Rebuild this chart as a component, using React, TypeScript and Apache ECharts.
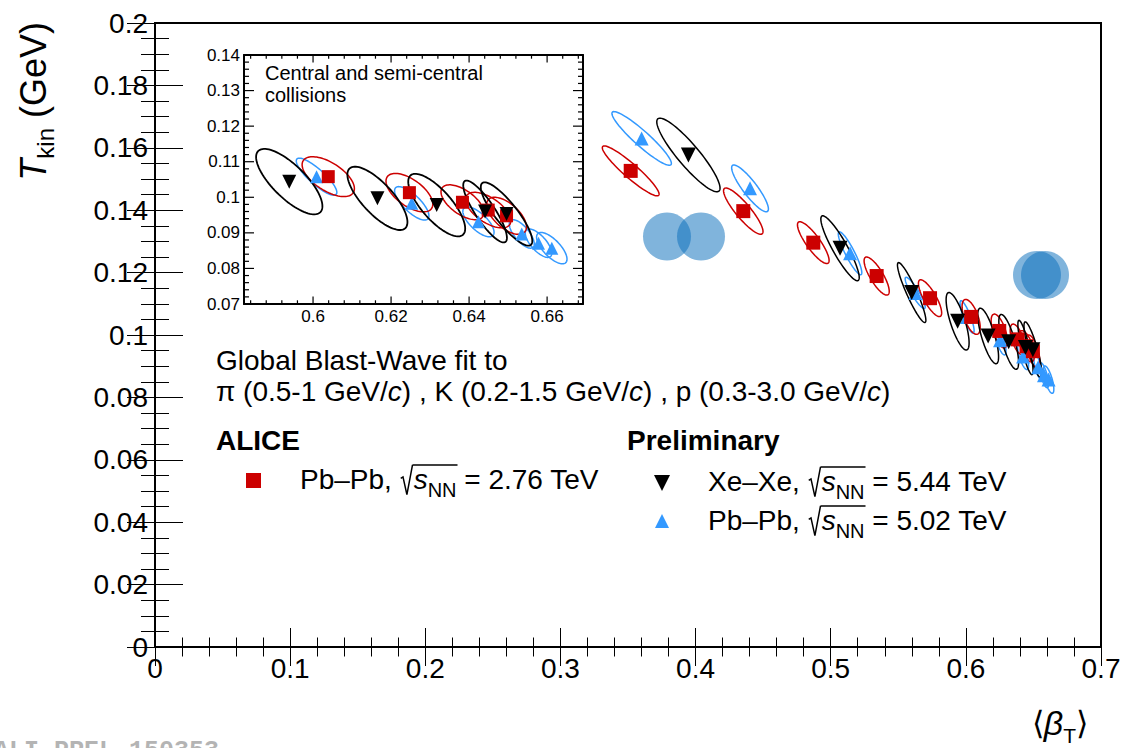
import React, { useEffect, useRef } from "react";
import * as echarts from "echarts";

// ---------------- data ----------------
// Pb-Pb 2.76 TeV (red squares)
const pbpb276Beta = [0.352, 0.4353, 0.4871, 0.534, 0.5735, 0.6039, 0.6247, 0.6383, 0.6449, 0.6496];
const pbpb276T = [0.1526, 0.1397, 0.1296, 0.1189, 0.1118, 0.1058, 0.1013, 0.0986, 0.0964, 0.0948];
const pbpb276SigBeta = [0.021, 0.0146, 0.0117, 0.0093, 0.0086, 0.0067, 0.006, 0.0055, 0.0058, 0.0051];
const pbpb276SigT = [0.008, 0.0074, 0.0067, 0.0061, 0.0059, 0.0056, 0.0054, 0.0049, 0.005, 0.0052];
const pbpb276Rho = [-0.93, -0.88, -0.85, -0.8, -0.8, -0.6, -0.6, -0.6, -0.6, -0.6];

// Xe-Xe 5.44 TeV (black down triangles)
const xexe544Beta = [0.3947, 0.5069, 0.5599, 0.5939, 0.6165, 0.6317, 0.6441, 0.6496];
const xexe544T = [0.1577, 0.1278, 0.1136, 0.1044, 0.0997, 0.0978, 0.096, 0.0953];
const xexe544SigBeta = [0.0234, 0.0142, 0.0105, 0.0085, 0.0077, 0.0073, 0.0056, 0.0066];
const xexe544SigT = [0.0118, 0.0104, 0.0096, 0.0092, 0.0089, 0.0088, 0.0087, 0.0089];
const xexe544Rho = [-0.9, -0.9, -0.92, -0.75, -0.75, -0.75, -0.85, -0.85];

// Pb-Pb 5.02 TeV (blue triangles)
const pbpb502Beta = [0.3601, 0.4403, 0.5143, 0.5625, 0.6009, 0.6253, 0.6424, 0.6535, 0.6578, 0.6612];
const pbpb502T = [0.163, 0.147, 0.1262, 0.1135, 0.1058, 0.0983, 0.0931, 0.0897, 0.0871, 0.0857];
const pbpb502SigBeta = [0.022, 0.0136, 0.0087, 0.0074, 0.0052, 0.0044, 0.004, 0.0032, 0.0034, 0.0039];
const pbpb502SigT = [0.0086, 0.0075, 0.0069, 0.005, 0.0052, 0.0047, 0.0042, 0.004, 0.004, 0.0044];
const pbpb502Rho = [-0.93, -0.88, -0.9, -0.9, -0.85, -0.75, -0.7, -0.7, -0.7, -0.7];

// axis ticks
const mainXTicks = [0, 0.1, 0.2, 0.3, 0.4, 0.5, 0.6, 0.7];
const mainYTicks = [0, 0.02, 0.04, 0.06, 0.08, 0.1, 0.12, 0.14, 0.16, 0.18, 0.2];
const insetXTicks = [0.6, 0.62, 0.64, 0.66];
const insetYTicks = [0.07, 0.08, 0.09, 0.1, 0.11, 0.12, 0.13, 0.14];
const insetXRange = [0.5823, 0.6692];

// ---------------- helpers ----------------
const FONT = '"Liberation Sans", Arial, Helvetica, sans-serif';
const RED = "#cc0000";
const BLUE = "#3399ff";
const BLACK = "#000000";

let mctx: CanvasRenderingContext2D | null = null;
function measure(t: string, size: number, italic?: boolean, bold?: boolean) {
  if (!mctx) mctx = document.createElement("canvas").getContext("2d");
  mctx!.font = `${italic ? "italic " : ""}${bold ? "bold " : ""}${size}px ${FONT}`;
  return mctx!.measureText(t).width;
}

type Part = { t: string; size: number; italic?: boolean; bold?: boolean; dy?: number; sqrt?: boolean; over?: boolean };

function rowEls(parts: Part[], x: number, base: number, color = "#000") {
  const els: any[] = [];
  let cx = x;
  let overStart: number | null = null;
  let overTop = 0;
  parts.forEach((p) => {
    if (p.sqrt) {
      const s = p.size;
      const x0 = cx + 0.04 * s;
      overTop = base - 0.86 * s;
      els.push({
        type: "polyline",
        z: 50,
        shape: {
          points: [
            [x0, base - 0.38 * s],
            [x0 + 0.08 * s, base - 0.43 * s],
            [x0 + 0.22 * s, base + 0.2 * s],
            [x0 + 0.42 * s, overTop],
          ],
        },
        style: { stroke: color, lineWidth: 1.5, fill: "none" },
      });
      overStart = x0 + 0.42 * s;
      cx += 0.5 * s;
      return;
    }
    const w = measure(p.t, p.size, p.italic, p.bold);
    els.push({
      type: "text",
      z: 50,
      x: cx,
      y: base + (p.dy || 0) - 0.33 * p.size,
      style: {
        text: p.t,
        fontSize: p.size,
        fontFamily: FONT,
        fontStyle: p.italic ? "italic" : "normal",
        fontWeight: p.bold ? "bold" : "normal",
        fill: color,
        align: "left",
        verticalAlign: "middle",
      },
    });
    cx += w;
    if (p.over && overStart !== null) {
      els.push({
        type: "line",
        z: 50,
        shape: { x1: overStart, y1: overTop, x2: cx + 1, y2: overTop },
        style: { stroke: color, lineWidth: 1.5 },
      });
      overStart = null;
    }
  });
  return { els, width: cx - x };
}

function legendParts(system: string, energy: string, s: number): Part[] {
  return [
    { t: system + ", ", size: s },
    { t: "", size: s, sqrt: true },
    { t: "s", size: s, italic: true },
    { t: "NN", size: Math.round(s * 0.72), dy: 0.28 * s, over: true },
    { t: " = " + energy + " TeV", size: s },
  ];
}

const fmt = (v: number) => String(parseFloat((+v).toFixed(3)));

function ellipseData(bx: number[], t: number[], sb: number[], st: number[], rho: number[]) {
  return bx.map((b, i) => [b, t[i], sb[i], st[i], rho[i]]);
}

function ellipseSeries(data: number[][], color: string, lw: number, xi: number, yi: number, z: number) {
  return {
    type: "custom",
    xAxisIndex: xi,
    yAxisIndex: yi,
    clip: true,
    z,
    silent: true,
    encode: { x: 0, y: 1 },
    data,
    renderItem: (params: any, api: any) => {
      const cx = api.value(0);
      const cy = api.value(1);
      const sx = api.value(2);
      const sy = api.value(3);
      const rho = api.value(4);
      const r = Math.sqrt(1 - rho * rho);
      const pts: number[][] = [];
      const N = 90;
      for (let i = 0; i < N; i++) {
        const a = (i / N) * Math.PI * 2;
        const x = cx + sx * Math.cos(a);
        const y = cy + sy * (rho * Math.cos(a) + r * Math.sin(a));
        pts.push(api.coord([x, y]));
      }
      return {
        type: "polygon",
        shape: { points: pts },
        style: { fill: "none", stroke: color, lineWidth: lw },
      };
    },
  };
}

function scatterSeries(bx: number[], t: number[], symbol: string, rot: number, size: number, color: string, xi: number, yi: number, z: number) {
  return {
    type: "scatter",
    xAxisIndex: xi,
    yAxisIndex: yi,
    symbol,
    symbolRotate: rot,
    symbolSize: size,
    z,
    itemStyle: { color, opacity: 1 },
    data: bx.map((b, i) => [b, t[i]]),
  };
}

export default function App() {
  const ref = useRef<HTMLDivElement>(null);
  useEffect(() => {
    if (!ref.current) return;
    const chart = echarts.init(ref.current, undefined, { renderer: "svg" });

    const red = ellipseData(pbpb276Beta, pbpb276T, pbpb276SigBeta, pbpb276SigT, pbpb276Rho);
    const blk = ellipseData(xexe544Beta, xexe544T, xexe544SigBeta, xexe544SigT, xexe544Rho);
    const blu = ellipseData(pbpb502Beta, pbpb502T, pbpb502SigBeta, pbpb502SigT, pbpb502Rho);

    const yMin = insetYTicks[0];
    const yMax = insetYTicks[insetYTicks.length - 1];
    // inset tick marks: [x, y, kind(0 = x-axis tick, 1 = y-axis tick), length]
    const insetTickData: number[][] = [];
    for (let k = 146; k <= 167; k++) {
      const v = +(k * 0.004).toFixed(3);
      const major = insetXTicks.some((m) => Math.abs(m - v) < 1e-6);
      insetTickData.push([v, yMin, 0, major ? 7.5 : 3.7]);
    }
    for (let k = 35; k <= 70; k++) {
      const v = +(k * 0.002).toFixed(3);
      const major = insetYTicks.some((m) => Math.abs(m - v) < 1e-6);
      insetTickData.push([insetXRange[0], v, 1, major ? 10 : 5]);
    }

    const ts = () => ({ color: "#000", width: 1 });
    const mainX = (pos: string, show: boolean) => ({
      type: "value",
      gridIndex: 0,
      position: pos,
      min: mainXTicks[0],
      max: mainXTicks[mainXTicks.length - 1],
      interval: 0.1,
      axisLine: { show: false },
      axisTick: { show: true, inside: true, length: 19, lineStyle: ts() },
      minorTick: { show: true, splitNumber: 5, length: 9.5, lineStyle: ts() },
      splitLine: { show: false },
      minorSplitLine: { show: false },
      axisLabel: { show, fontSize: 28, color: "#000", fontFamily: FONT, margin: 7, formatter: fmt },
    });
    const mainY = (pos: string, show: boolean) => ({
      type: "value",
      gridIndex: 0,
      position: pos,
      min: mainYTicks[0],
      max: mainYTicks[mainYTicks.length - 1],
      interval: 0.02,
      axisLine: { show: false },
      axisTick: { show: true, inside: true, length: 28, lineStyle: ts() },
      minorTick: { show: true, splitNumber: 4, length: 14, lineStyle: ts() },
      splitLine: { show: false },
      minorSplitLine: { show: false },
      axisLabel: { show, fontSize: 28, color: "#000", fontFamily: FONT, margin: 7, formatter: fmt },
    });
    const insetX = (pos: string, show: boolean) => ({
      type: "value",
      gridIndex: 1,
      position: pos,
      min: insetXRange[0],
      max: insetXRange[1],
      axisLine: { show: true, onZero: false, lineStyle: { color: "#000", width: 2 } },
      axisTick: { show: false, customValues: insetXTicks },
      splitLine: { show: false },
      axisLabel: { show, customValues: insetXTicks, fontSize: 17, color: "#000", fontFamily: FONT, margin: 4, formatter: fmt },
    });
    const insetY = (pos: string, show: boolean) => ({
      type: "value",
      gridIndex: 1,
      position: pos,
      min: yMin,
      max: yMax,
      interval: 0.01,
      axisLine: { show: true, onZero: false, lineStyle: { color: "#000", width: 2 } },
      axisTick: { show: false },
      splitLine: { show: false },
      axisLabel: { show, fontSize: 17, color: "#000", fontFamily: FONT, margin: 4, formatter: fmt },
    });

    const tickSeries = {
      type: "custom",
      xAxisIndex: 2,
      yAxisIndex: 2,
      clip: false,
      silent: true,
      z: 6,
      encode: { x: 0, y: 1 },
      data: insetTickData,
      renderItem: (params: any, api: any) => {
        const kind = api.value(2);
        const len = api.value(3);
        const st = { stroke: "#000", lineWidth: 1.2 };
        if (kind === 0) {
          const b = api.coord([api.value(0), yMin]);
          const t = api.coord([api.value(0), yMax]);
          return {
            type: "group",
            children: [
              { type: "line", shape: { x1: b[0], y1: b[1], x2: b[0], y2: b[1] - len }, style: st },
              { type: "line", shape: { x1: t[0], y1: t[1], x2: t[0], y2: t[1] + len }, style: st },
            ],
          };
        }
        const l = api.coord([insetXRange[0], api.value(1)]);
        const r = api.coord([insetXRange[1], api.value(1)]);
        return {
          type: "group",
          children: [
            { type: "line", shape: { x1: l[0], y1: l[1], x2: l[0] + len, y2: l[1] }, style: st },
            { type: "line", shape: { x1: r[0], y1: r[1], x2: r[0] - len, y2: r[1] }, style: st },
          ],
        };
      },
    };

    // ------------- graphic texts -------------
    const g: any[] = [];
    const T = 28;
    g.push(...rowEls([{ t: "Global Blast-Wave fit to", size: T }], 216, 370).els);
    g.push(
      ...rowEls(
        [
          { t: "\u03c0 (0.5-1 GeV/", size: T },
          { t: "c", size: T, italic: true },
          { t: ") , K (0.2-1.5 GeV/", size: T },
          { t: "c", size: T, italic: true },
          { t: ") , p (0.3-3.0 GeV/", size: T },
          { t: "c", size: T, italic: true },
          { t: ")", size: T },
        ],
        216,
        401
      ).els
    );
    g.push(...rowEls([{ t: "ALICE", size: T, bold: true }], 216, 450).els);
    g.push(...rowEls([{ t: "Preliminary", size: T, bold: true }], 627, 450).els);
    g.push(...rowEls(legendParts("Pb\u2013Pb", "2.76", T), 300, 489).els);
    g.push(...rowEls(legendParts("Xe\u2013Xe", "5.44", T), 708, 491).els);
    g.push(...rowEls(legendParts("Pb\u2013Pb", "5.02", T), 708, 530).els);
    // legend keys
    g.push({ type: "rect", z: 50, shape: { x: 246, y: 473, width: 15, height: 15 }, style: { fill: RED } });
    g.push({ type: "polygon", z: 50, shape: { points: [[654, 475], [670, 475], [662, 491]] }, style: { fill: BLACK } });
    g.push({ type: "polygon", z: 50, shape: { points: [[655, 528], [669, 528], [662, 514]] }, style: { fill: BLUE } });

    // inset label
    g.push(...rowEls([{ t: "Central and semi-central", size: 20 }], 265, 80).els);
    g.push(...rowEls([{ t: "collisions", size: 20 }], 265, 102).els);

    // nuclei sketches
    const nuc = "rgba(11,111,188,0.52)";
    g.push({ type: "circle", z: 50, shape: { cx: 667, cy: 236.5, r: 24 }, style: { fill: nuc } });
    g.push({ type: "circle", z: 50, shape: { cx: 701, cy: 236.5, r: 24 }, style: { fill: nuc } });
    g.push({ type: "circle", z: 50, shape: { cx: 1037, cy: 275, r: 24 }, style: { fill: nuc } });
    g.push({ type: "circle", z: 50, shape: { cx: 1045, cy: 275, r: 24 }, style: { fill: nuc } });

    // y axis title (rotated)
    const yParts: Part[] = [
      { t: "T", size: 36, italic: true },
      { t: "kin", size: 24, dy: 8 },
      { t: " (GeV)", size: 36 },
    ];
    const yr = rowEls(yParts, 0, 0);
    g.push({ type: "group", z: 50, x: 45, y: 22 + yr.width, rotation: Math.PI / 2, children: yr.els });

    // x axis title
    const xParts: Part[] = [
      { t: "\u27e8", size: 32 },
      { t: "\u03b2", size: 34, italic: true },
      { t: "T", size: 21, dy: 8 },
      { t: "\u27e9", size: 32 },
    ];
    const xw = rowEls(xParts, 0, 0).width;
    g.push(...rowEls(xParts, 1088 - xw, 734).els);

    // preliminary id (partly outside the picture, as in the original)
    g.push({
      type: "text",
      z: 50,
      x: -6,
      y: 739,
      style: { text: "ALI-PREL-150353", fontSize: 25, fontFamily: '"Liberation Mono", monospace', fontWeight: "bold", fill: "#b4b4b4", align: "left", verticalAlign: "top" },
    });

    chart.setOption({
      animation: false,
      backgroundColor: "#fff",
      grid: [
        { left: 155, top: 23, width: 946, height: 624, show: true, borderColor: "#000", borderWidth: 2, backgroundColor: "transparent" },
        { left: 244, top: 55, width: 339, height: 249, show: false },
      ],
      xAxis: [mainX("bottom", true), mainX("top", false), insetX("bottom", true), insetX("top", false)],
      yAxis: [mainY("left", true), mainY("right", false), insetY("left", true), insetY("right", false)],
      graphic: { elements: g },
      series: [
        ellipseSeries(blu, BLUE, 1.5, 0, 0, 2),
        ellipseSeries(red, RED, 1.5, 0, 0, 2),
        ellipseSeries(blk, BLACK, 1.5, 0, 0, 2),
        scatterSeries(pbpb502Beta, pbpb502T, "triangle", 0, 14, BLUE, 0, 0, 3),
        scatterSeries(pbpb276Beta, pbpb276T, "rect", 0, 14, RED, 0, 0, 3),
        scatterSeries(xexe544Beta, xexe544T, "triangle", 180, 15, BLACK, 0, 0, 3),
        tickSeries,
        ellipseSeries(blu, BLUE, 1.5, 2, 2, 4),
        ellipseSeries(red, RED, 1.5, 2, 2, 4),
        ellipseSeries(blk, BLACK, 1.8, 2, 2, 4),
        scatterSeries(pbpb502Beta, pbpb502T, "triangle", 0, 13, BLUE, 2, 2, 5),
        scatterSeries(pbpb276Beta, pbpb276T, "rect", 0, 13, RED, 2, 2, 5),
        scatterSeries(xexe544Beta, xexe544T, "triangle", 180, 14, BLACK, 2, 2, 5),
      ],
    });
    return () => chart.dispose();
  }, []);
  return <div ref={ref} style={{ position: "fixed", left: 0, top: 0, width: 1124, height: 748 }} />;
}
